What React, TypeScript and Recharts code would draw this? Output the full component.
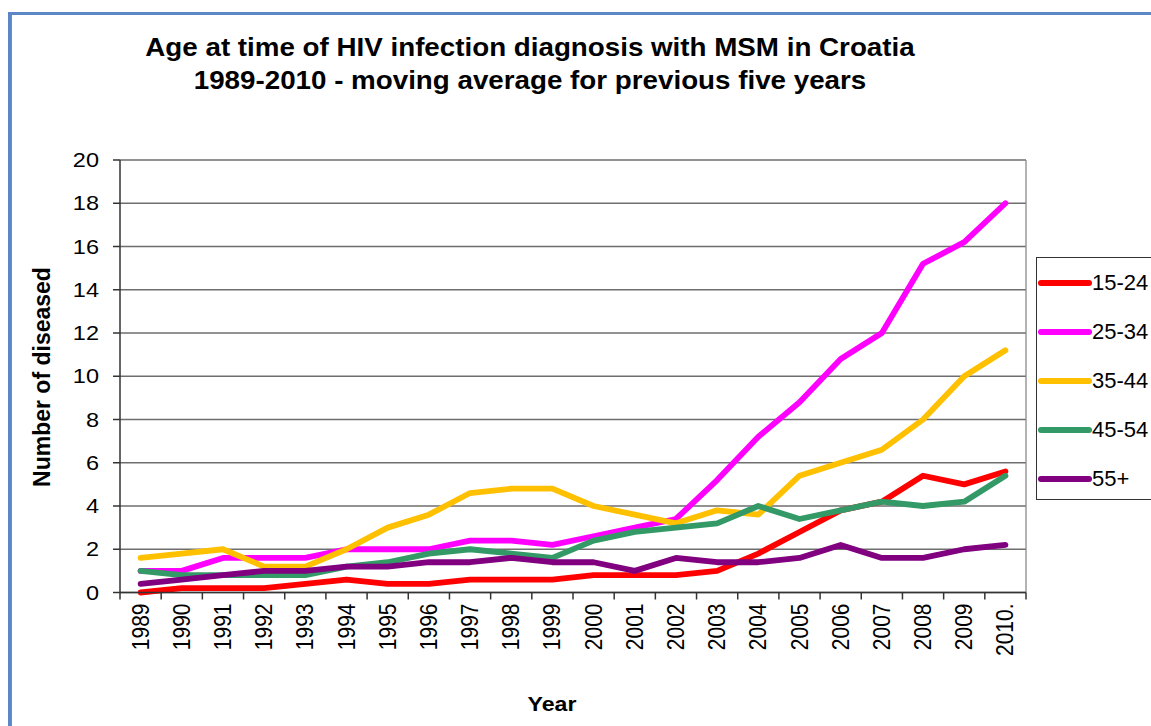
import React from "react";
import { LineChart, Line, XAxis, YAxis, CartesianGrid, ReferenceLine } from "recharts";

const YEARS = ["1989", "1990", "1991", "1992", "1993", "1994", "1995", "1996", "1997", "1998", "1999", "2000", "2001", "2002", "2003", "2004", "2005", "2006", "2007", "2008", "2009", "2010."];

const AGE_15_24 = [0, 0.2, 0.2, 0.2, 0.4, 0.6, 0.4, 0.4, 0.6, 0.6, 0.6, 0.8, 0.8, 0.8, 1.0, 1.8, 2.8, 3.8, 4.2, 5.4, 5.0, 5.6];
const AGE_25_34 = [1.0, 1.0, 1.6, 1.6, 1.6, 2.0, 2.0, 2.0, 2.4, 2.4, 2.2, 2.6, 3.0, 3.4, 5.2, 7.2, 8.8, 10.8, 12.0, 15.2, 16.2, 18.0];
const AGE_35_44 = [1.6, 1.8, 2.0, 1.2, 1.2, 2.0, 3.0, 3.6, 4.6, 4.8, 4.8, 4.0, 3.6, 3.2, 3.8, 3.6, 5.4, 6.0, 6.6, 8.0, 10.0, 11.2];
const AGE_45_54 = [1.0, 0.8, 0.8, 0.8, 0.8, 1.2, 1.4, 1.8, 2.0, 1.8, 1.6, 2.4, 2.8, 3.0, 3.2, 4.0, 3.4, 3.8, 4.2, 4.0, 4.2, 5.4];
const AGE_55_PLUS = [0.4, 0.6, 0.8, 1.0, 1.0, 1.2, 1.2, 1.4, 1.4, 1.6, 1.4, 1.4, 1.0, 1.6, 1.4, 1.4, 1.6, 2.2, 1.6, 1.6, 2.0, 2.2];

const Y_TICKS = [0, 2, 4, 6, 8, 10, 12, 14, 16, 18, 20];

const SERIES = [
  { key: "15-24", values: AGE_15_24, color: "#FF0000" },
  { key: "25-34", values: AGE_25_34, color: "#FF00FF" },
  { key: "35-44", values: AGE_35_44, color: "#FFC000" },
  { key: "45-54", values: AGE_45_54, color: "#339966" },
  { key: "55+", values: AGE_55_PLUS, color: "#800080" },
];

const FONT = '"Liberation Sans", Arial, sans-serif';

// plot box in page pixels
const W = 1151;
const H = 726;
const PLOT_LEFT = 120;
const PLOT_RIGHT = 1026;
const PLOT_TOP = 160;
const PLOT_BOTTOM = 592.5;
const BAND = (PLOT_RIGHT - PLOT_LEFT) / YEARS.length;

const chartData = YEARS.map((year, i) => {
  const row: Record<string, number | string> = { idx: i, year };
  SERIES.forEach((s) => {
    row[s.key] = s.values[i];
  });
  return row;
});

// category boundaries, Excel style tick marks between years
const X_BOUNDS = Array.from({ length: YEARS.length + 1 }, (_, i) => i - 0.5);

function YearTick(props: any) {
  const { x, payload } = props;
  const i = Math.round(payload.value + 0.5);
  if (i >= YEARS.length) return null;
  const cx = x + BAND / 2;
  const cy = PLOT_BOTTOM + 11;
  return (
    <text
      transform={`translate(${cx},${cy}) rotate(-90) scale(1,1.15)`}
      textAnchor="end"
      dominantBaseline="central"
      fontSize={21}
      fontFamily={FONT}
      fill="#000"
    >
      {YEARS[i]}
    </text>
  );
}

function ValueTick(props: any) {
  const { x, y, payload } = props;
  return (
    <text
      transform={`translate(${x},${y}) scale(1.12,1)`}
      textAnchor="end"
      dominantBaseline="central"
      fontSize={21}
      fontFamily={FONT}
      fill="#000"
    >
      {payload.value}
    </text>
  );
}

function LegendBox() {
  return (
    <div
      style={{
        position: "absolute",
        left: 1036,
        top: 257,
        border: "1.5px solid #333",
        borderRight: "none",
        width: 130,
        height: 243,
        background: "#fff",
        boxSizing: "border-box",
      }}
    >
      {SERIES.map((s) => (
        <div key={s.key} style={{ display: "flex", alignItems: "center", height: 49, fontFamily: FONT, fontSize: 22, color: "#000" }}>
          <svg width={54} height={10} style={{ marginLeft: 1 }}>
            <line x1={3} y1={5} x2={51} y2={5} stroke={s.color} strokeWidth={6} strokeLinecap="round" />
          </svg>
          <span>{s.key}</span>
        </div>
      ))}
    </div>
  );
}

export default function App() {
  return (
    <div style={{ position: "absolute", left: 0, top: 0, width: W, height: H, background: "#fff", overflow: "hidden" }}>
      {/* slide frame */}
      <div style={{ position: "absolute", left: 8, top: 12, width: W, height: H, borderTop: "3px solid #5b87c7", borderLeft: "3px solid #5b87c7" }} />
      <div style={{ position: "absolute", left: 11, top: 15, width: 1, height: H, background: "#8a8a8a" }} />

      <div
        style={{
          position: "absolute",
          left: 0,
          top: 31,
          width: 1060,
          textAlign: "center",
          fontFamily: FONT,
          fontWeight: "bold",
          fontSize: 25,
          lineHeight: "33px",
          color: "#000",
          transform: "scaleX(1.11)",
          transformOrigin: "530px 0",
        }}
      >
        Age at time of HIV infection diagnosis with MSM in Croatia
        <br />
        1989-2010 - moving average for previous five years
      </div>

      <div style={{ position: "absolute", left: 0, top: 0 }}>
        <LineChart
          width={W}
          height={H}
          data={chartData}
          margin={{ top: PLOT_TOP, right: W - PLOT_RIGHT, bottom: H - PLOT_BOTTOM - 100, left: PLOT_LEFT - 80 }}
        >
          <CartesianGrid vertical={false} stroke="#6e6e6e" strokeWidth={1.3} horizontalValues={Y_TICKS} />
          <ReferenceLine x={21.5} stroke="#8a8a8a" strokeWidth={1.3} />
          <XAxis
            dataKey="idx"
            type="number"
            domain={[-0.5, YEARS.length - 0.5]}
            ticks={X_BOUNDS}
            interval={0}
            height={100}
            tickSize={7}
            axisLine={{ stroke: "#333", strokeWidth: 1.5 }}
            tickLine={{ stroke: "#333", strokeWidth: 1.5 }}
            tick={<YearTick />}
          />
          <YAxis
            domain={[0, 20]}
            ticks={Y_TICKS}
            interval={0}
            width={80}
            tickSize={7}
            tickMargin={14}
            axisLine={{ stroke: "#333", strokeWidth: 1.5 }}
            tickLine={{ stroke: "#333", strokeWidth: 1.5 }}
            tick={<ValueTick />}
          />
          {SERIES.map((s) => (
            <Line
              key={s.key}
              dataKey={s.key}
              type="linear"
              stroke={s.color}
              strokeWidth={5.8}
              strokeLinejoin="round"
              strokeLinecap="round"
              dot={false}
              activeDot={false}
              isAnimationActive={false}
            />
          ))}
        </LineChart>
      </div>

      <LegendBox />

      <div
        style={{
          position: "absolute",
          left: 42,
          top: 377,
          transform: "translate(-50%, -50%) rotate(-90deg)",
          whiteSpace: "nowrap",
          fontFamily: FONT,
          fontWeight: "bold",
          fontSize: 23,
          color: "#000",
        }}
      >
        Number of diseased
      </div>

      <div
        style={{
          position: "absolute",
          left: 552,
          top: 704,
          transform: "translate(-50%, -50%) scaleX(1.1)",
          whiteSpace: "nowrap",
          fontFamily: FONT,
          fontWeight: "bold",
          fontSize: 21,
          color: "#000",
        }}
      >
        Year
      </div>
    </div>
  );
}
